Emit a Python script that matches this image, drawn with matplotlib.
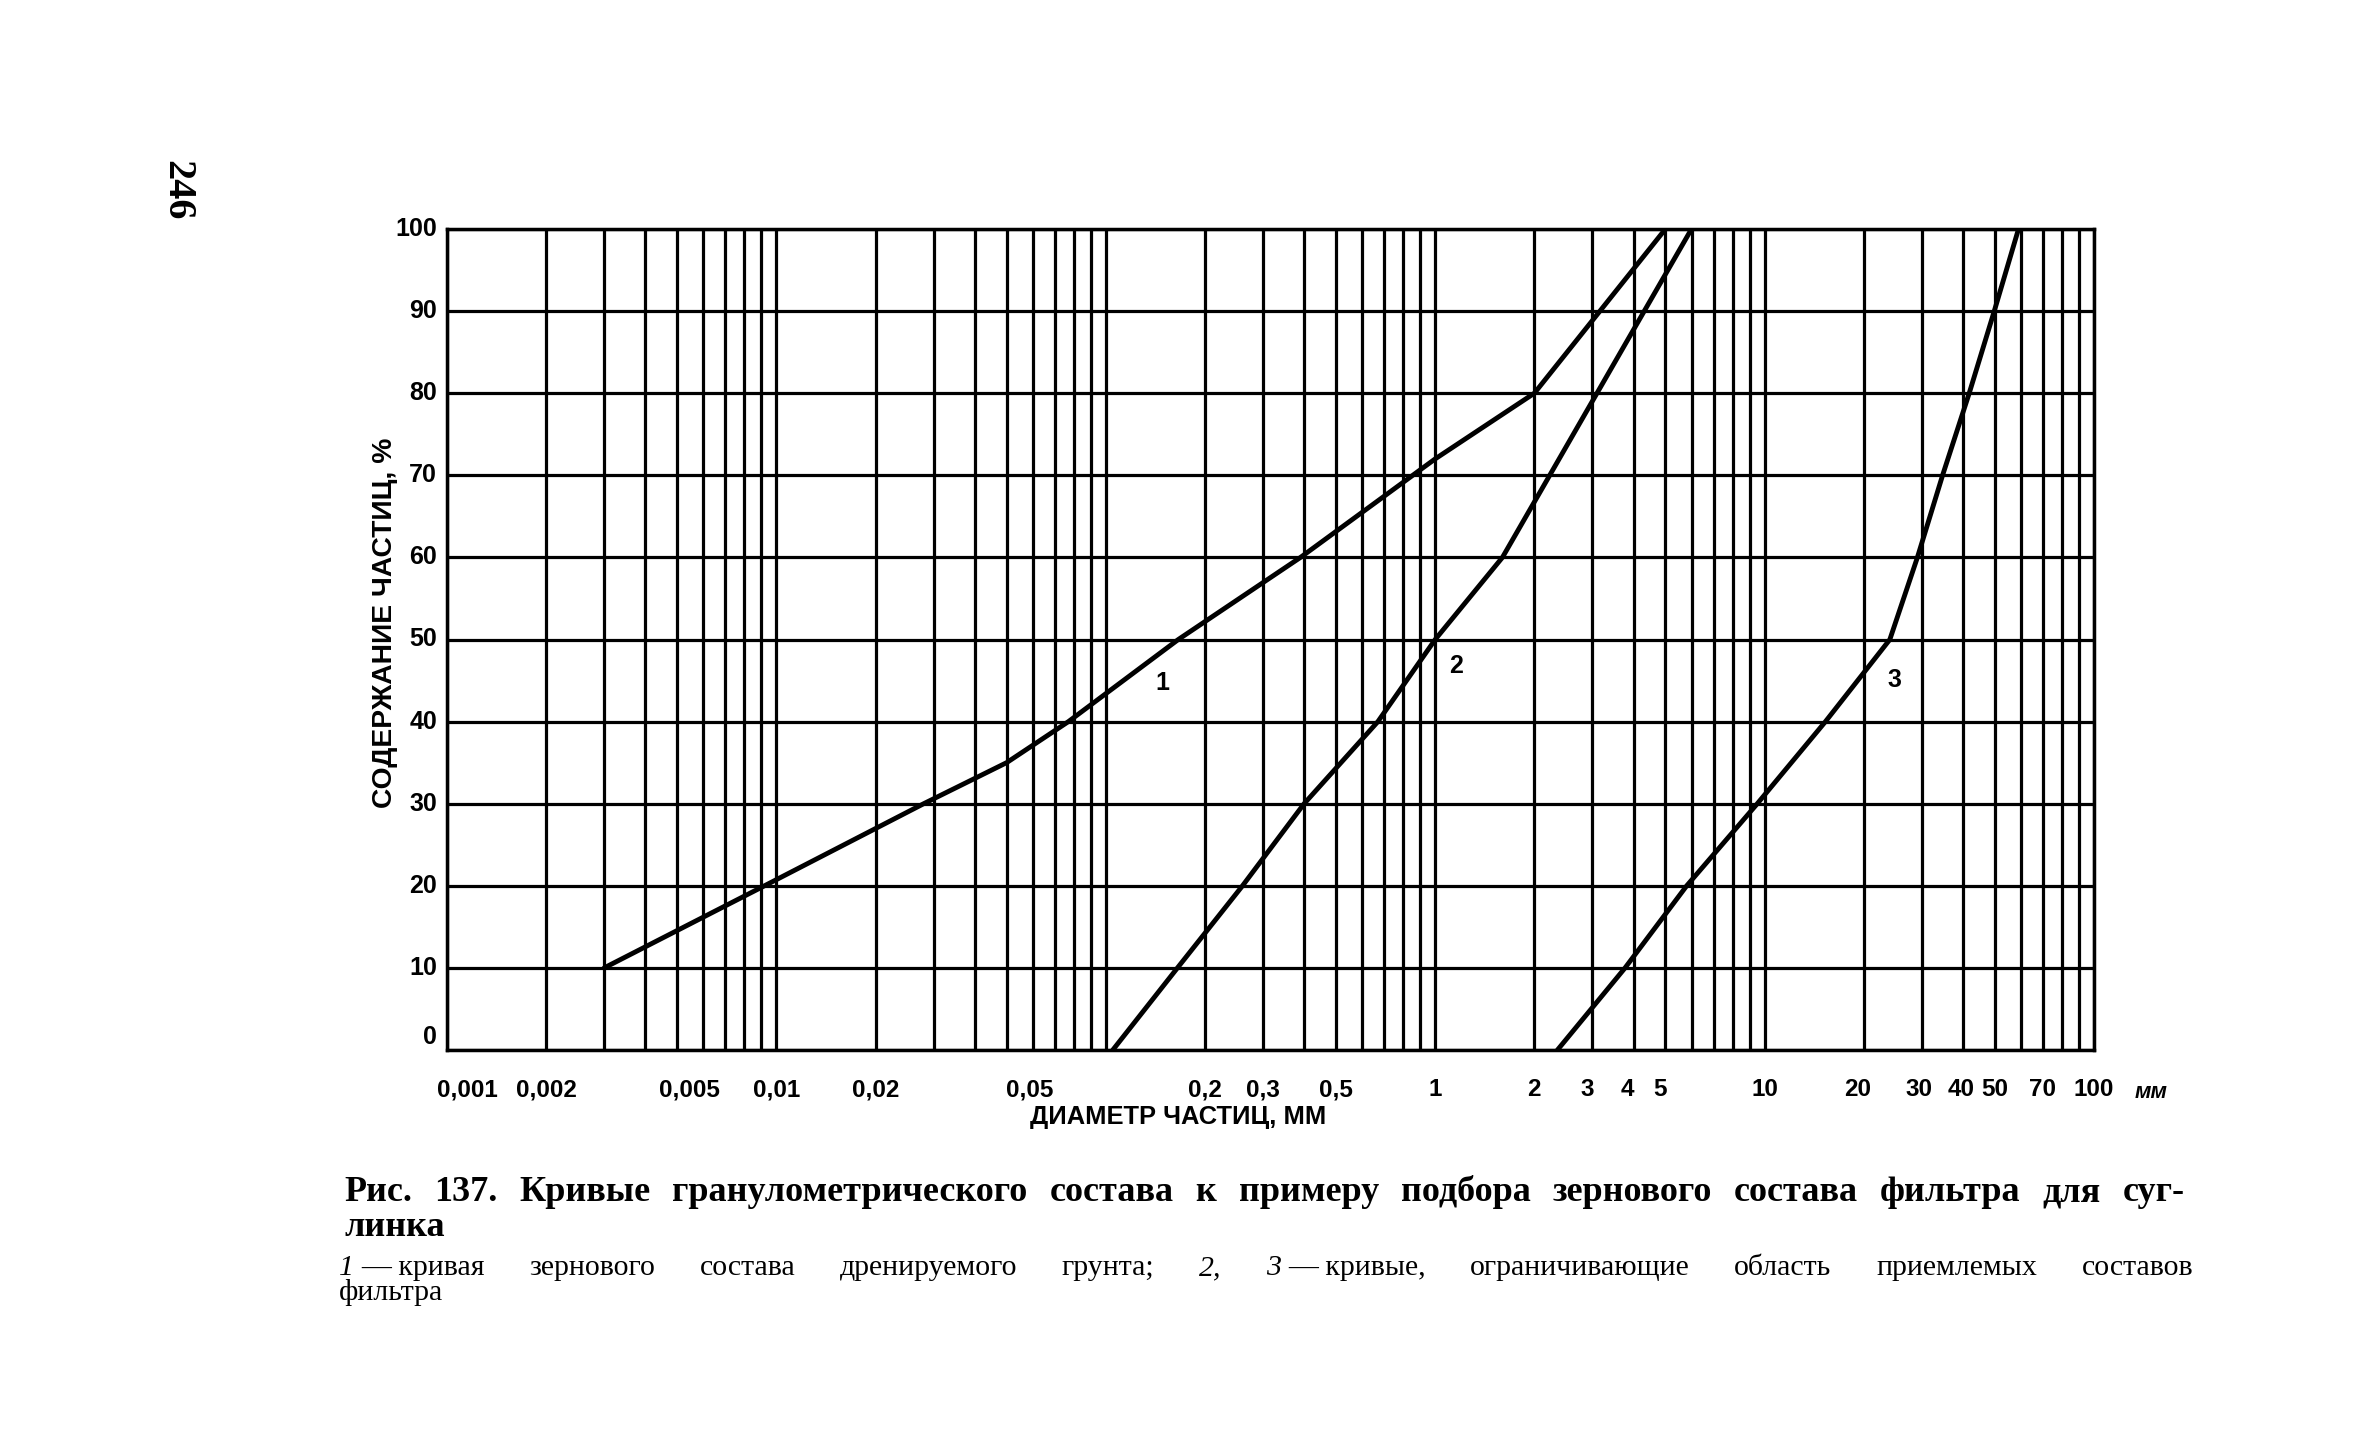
import numpy as np
import matplotlib
matplotlib.use("Agg")
import matplotlib.pyplot as plt
from matplotlib import font_manager
from matplotlib.ticker import LogLocator, FixedLocator, NullFormatter, NullLocator
from matplotlib.transforms import blended_transform_factory, offset_copy

# ---------------- data ----------------
curve1_d = [0.003, 0.0092, 0.028, 0.05, 0.077, 0.166, 0.39, 1.0, 2.0, 5.0]
curve1_p = [10, 20, 30, 35, 40, 50, 60, 72, 80, 100]

curve2_d = [0.105, 0.165, 0.26, 0.40, 0.67, 1.0, 1.6, 6.0]
curve2_p = [0, 10, 20, 30, 40, 50, 60, 100]

curve3_d = [2.35, 3.77, 5.8, 9.5, 15.3, 24.0, 29.1, 34.7, 41.8, 49.8, 59.0]
curve3_p = [0, 10, 20, 30, 40, 50, 60, 70, 80, 90, 100]

xtick_values = [0.001, 0.002, 0.005, 0.01, 0.02, 0.05, 0.2, 0.3, 0.5, 1, 2, 3,
                4, 5, 10, 20, 30, 40, 50, 70, 100]
xtick_labels = ["0,001", "0,002", "0,005", "0,01", "0,02", "0,05", "0,2", "0,3",
                "0,5", "1", "2", "3", "4", "5", "10", "20", "30", "40", "50",
                "70", "100"]
ytick_values = [0, 10, 20, 30, 40, 50, 60, 70, 80, 90, 100]
ytick_labels = ["0", "10", "20", "30", "40", "50", "60", "70", "80", "90", "100"]

curve_names = ["1", "2", "3"]
curve_name_x = [0.148, 1.157, 24.7]
curve_name_y = [44.7, 46.8, 45.1]

y_title = "СОДЕРЖАНИЕ ЧАСТИЦ, %"
x_title = "ДИАМЕТР ЧАСТИЦ, ММ"
x_unit = "мм"
page_no = "246"
caption1 = ["Рис.", "137.", "Кривые", "гранулометрического", "состава", "к",
            "примеру", "подбора", "зернового", "состава", "фильтра", "для", "суг-"]
caption2 = "линка"
# each token: list of (segment, italic) kept together
caption3 = [[("1", True), ("— кривая", False)], [("зернового", False)],
            [("состава", False)], [("дренируемого", False)], [("грунта;", False)],
            [("2,", True)], [("3", True), ("— кривые,", False)],
            [("ограничивающие", False)], [("область", False)],
            [("приемлемых", False)], [("составов", False)]]
caption4 = "фильтра"

# ---------------- styling ----------------
avail = {f.name for f in font_manager.fontManager.ttflist}
NARROW = "Liberation Sans Narrow" if "Liberation Sans Narrow" in avail else "Liberation Sans"
SANS = "Liberation Sans"
SERIF = "Liberation Serif"

W, H = 2363, 1453
fig = plt.figure(figsize=(W / 100, H / 100), dpi=100)
fig.patch.set_facecolor("white")


def fx(px):
    return px / W


def fy(py):
    return 1 - py / H


L, R, T, B = 447, 2094, 229, 1050
ax = fig.add_axes([fx(L), fy(B), (R - L) / W, (B - T) / H])
ax.set_xscale("log")
ax.set_xlim(0.001, 100)
ax.set_ylim(0, 100)

ax.xaxis.set_major_locator(LogLocator(base=10, subs=np.arange(1, 10), numticks=200))
ax.xaxis.set_major_formatter(NullFormatter())
ax.xaxis.set_minor_locator(NullLocator())
ax.yaxis.set_major_locator(FixedLocator(ytick_values))
ax.yaxis.set_major_formatter(NullFormatter())
ax.grid(True, which="major", color="black", lw=2.3)
ax.tick_params(which="both", length=0, labelbottom=False, labelleft=False)
for s in ax.spines.values():
    s.set_color("black")
    s.set_linewidth(2.5)

for d, p in [(curve1_d, curve1_p), (curve2_d, curve2_p), (curve3_d, curve3_p)]:
    ax.plot(d, p, color="black", lw=3.5, solid_joinstyle="round",
            solid_capstyle="round", zorder=5)

for name, x, y in zip(curve_names, curve_name_x, curve_name_y):
    ax.text(x, y, name, ha="center", va="center", fontsize=18,
            fontweight="bold", family=SANS, zorder=6)

tick_fs = 20 if NARROW != SANS else 17.5
# small horizontal nudges of some printed tick labels (dots)
x_nudge = {"0,001": 20, "0,005": 12, "0,05": 23, "3": -5, "4": -6, "5": -5,
           "20": -6, "30": -3, "40": -2}
tx = blended_transform_factory(ax.transData, ax.transAxes)
for v, lab in zip(xtick_values, xtick_labels):
    ax.text(v, 0, lab, transform=offset_copy(tx, fig=fig, x=x_nudge.get(lab, 0),
                                             y=-40, units="dots"),
            ha="center", va="center", fontsize=tick_fs, fontweight="bold",
            family=NARROW, clip_on=False)

ty = blended_transform_factory(ax.transAxes, ax.transData)
for v, lab in zip(ytick_values, ytick_labels):
    dy = 13 if v == 0 else 0
    ax.text(0, v, lab, transform=offset_copy(ty, fig=fig, x=-10, y=dy, units="dots"),
            ha="right", va="center", fontsize=tick_fs + 0.5, fontweight="bold",
            family=NARROW, clip_on=False)

fig.canvas.draw()
renderer = fig.canvas.get_renderer()


def fit(t, target, use_height=False):
    bb = t.get_window_extent(renderer)
    cur = bb.height if use_height else bb.width
    t.set_fontsize(t.get_fontsize() * target / cur)


yt = fig.text(fx(385), fy(623), y_title, rotation=90, ha="center", va="center",
              fontsize=18, fontweight="bold", family=SANS)
fit(yt, 369, use_height=True)
xt = fig.text(fx(1178), fy(1117), x_title, ha="center", va="center",
              fontsize=18, fontweight="bold", family=NARROW)
fit(xt, 295)
fig.text(fx(2151), fy(1093), x_unit, ha="center", va="center", fontsize=16,
         fontweight="bold", fontstyle="italic", family=SANS)

fig.text(fx(177), fy(190), page_no, rotation=-90, ha="center", va="center",
         fontsize=29, fontweight="bold", family=SERIF)


def justify(tokens, x0, x1, base, inner=7, **kw):
    groups = []
    for tok in tokens:
        segs = []
        for txt, it in tok:
            t = fig.text(0, fy(base), txt, ha="left", va="baseline",
                         fontstyle="italic" if it else "normal", **kw)
            segs.append((t, t.get_window_extent(renderer).width))
        gw = sum(w for _, w in segs) + inner * (len(segs) - 1)
        groups.append((segs, gw))
    gap = (x1 - x0 - sum(g for _, g in groups)) / (len(groups) - 1)
    x = x0
    for segs, gw in groups:
        xs = x
        for t, w in segs:
            t.set_x(fx(xs))
            xs += w + inner
        x += gw + gap


justify([[(w, False)] for w in caption1], 344, 2185, 1201, family=SERIF,
        fontweight="bold", fontsize=26)
fig.text(fx(344), fy(1236), caption2, ha="left", va="baseline", family=SERIF,
         fontweight="bold", fontsize=26)
justify(caption3, 339, 2193, 1275, family=SERIF, fontsize=21.5)
fig.text(fx(339), fy(1300), caption4, ha="left", va="baseline", family=SERIF,
         fontsize=21.5)

fig.savefig("out.png", dpi=100, facecolor="white")
